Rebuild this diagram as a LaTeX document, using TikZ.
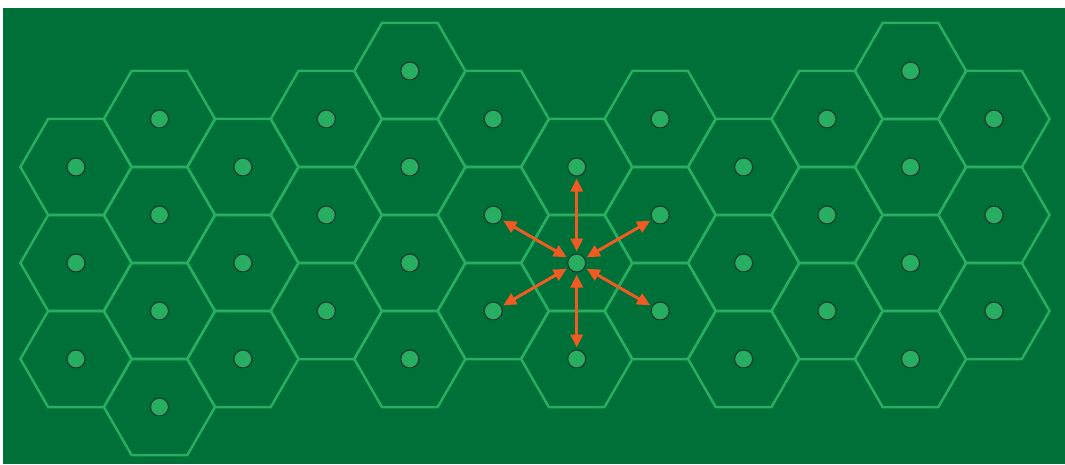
\documentclass[tikz,border=0pt]{standalone}
\usetikzlibrary{arrows.meta}
\definecolor{bggreen}{RGB}{0,112,57}
\definecolor{hexgreen}{RGB}{39,174,96}
\definecolor{dotline}{RGB}{28,52,40}
\definecolor{arroworange}{RGB}{241,90,34}
\tikzset{
  hexline/.style={draw=hexgreen, line width=2.5pt, line join=miter},
  cellpt/.style={circle, fill=hexgreen, draw=dotline, line width=1pt, minimum size=18pt, inner sep=0pt},
  linkarrow/.style={draw=arroworange, line width=3pt, {Triangle[length=13pt,width=12pt]}-{Triangle[length=13pt,width=12pt]}, shorten >=2pt, shorten <=2pt}
}
\begin{document}
\begin{tikzpicture}[x=1pt,y=-1pt]
\useasboundingbox (0,0) rectangle (1065,464);
\fill[bggreen] (3,8) rectangle (1065,464);
\foreach \c/\ks in {1/{2,4,6},2/{1,3,5,7},3/{2,4,6},4/{1,3,5},5/{0,2,4,6},6/{1,3,5},7/{2,4,6},8/{1,3,5},9/{2,4,6},10/{1,3,5},11/{0,2,4,6},12/{1,3,5}}{
  \foreach \k in \ks {
    \pgfmathsetmacro\xx{76+83.45*(\c-1)}
    \pgfmathsetmacro\yy{71+48*\k}
    \draw[hexline] (\xx,\yy) +(0:55.6) -- +(60:55.6) -- +(120:55.6) -- +(180:55.6) -- +(240:55.6) -- +(300:55.6) -- cycle;
  }
}
\foreach \c/\ks in {1/{2,4,6},2/{1,3,5,7},3/{2,4,6},4/{1,3,5},5/{0,2,4,6},6/{1,3,5},7/{2,4,6},8/{1,3,5},9/{2,4,6},10/{1,3,5},11/{0,2,4,6},12/{1,3,5}}{
  \foreach \k in \ks {
    \pgfmathsetmacro\xx{76+83.45*(\c-1)}
    \pgfmathsetmacro\yy{71+48*\k}
    \node[cellpt] (d-\c-\k) at (\xx,\yy) {};
  }
}
\draw[linkarrow] (d-7-4) -- (d-7-2);
\draw[linkarrow] (d-7-4) -- (d-7-6);
\draw[linkarrow] (d-7-4) -- (d-6-3);
\draw[linkarrow] (d-7-4) -- (d-8-3);
\draw[linkarrow] (d-7-4) -- (d-6-5);
\draw[linkarrow] (d-7-4) -- (d-8-5);
\end{tikzpicture}
\end{document}
